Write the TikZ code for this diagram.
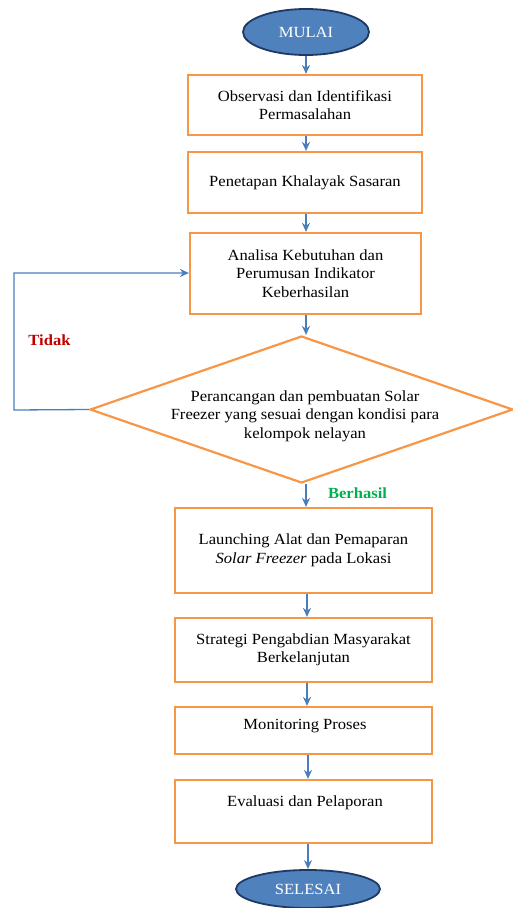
\documentclass[tikz,border=0pt]{standalone}
\usepackage{fontspec}
\setmainfont{Liberation Serif}[FakeStretch=1.07]
\usetikzlibrary{shapes.geometric,arrows.meta}
\definecolor{boxorange}{HTML}{F79646}
\definecolor{arrowblue}{HTML}{4A7EBB}
\definecolor{ellfill}{HTML}{4F81BD}
\definecolor{elldraw}{HTML}{1F3864}
\definecolor{nored}{HTML}{C00000}
\definecolor{yesgreen}{HTML}{00B050}
\tikzset{
  procbox/.style={draw=boxorange, line width=2.2pt, fill=white, rectangle, align=center, inner sep=2pt,
    font=\fontsize{15.5}{18.5}\selectfont},
  terminal/.style={draw=elldraw, line width=1.8pt, fill=ellfill, ellipse, inner sep=0pt, text=white,
    font=\fontsize{15.5}{18.5}\selectfont},
  txt/.style={align=center, inner sep=0pt, font=\fontsize{15.5}{18.5}\selectfont},
  flow/.style={draw=arrowblue, line width=1.3pt, -{Stealth[length=9pt,width=8pt]}},
}
\begin{document}
\begin{tikzpicture}[x=1pt,y=-1pt]
\useasboundingbox (0,0) rectangle (513,908);
\node[terminal, minimum width=126pt, minimum height=46pt] (start) at (306,32) {MULAI};
\node[procbox, minimum width=234pt, minimum height=60pt] (b1) at (305,105) {Observasi dan Identifikasi\\Permasalahan};
\node[procbox, minimum width=234pt, minimum height=61pt] (b2) at (305,182.5) {Penetapan Khalayak Sasaran};
\node[procbox, minimum width=231pt, minimum height=81pt] (b3) at (305.5,273.5) {Analisa Kebutuhan dan\\Perumusan Indikator\\Keberhasilan};
\node[draw=boxorange, line width=2.2pt, diamond, inner sep=0pt, minimum width=423pt, minimum height=147pt] (dia) at (301.5,409.5) {};
\node[txt] (diat) at (305,416) {Perancangan dan pembuatan Solar\\Freezer yang sesuai dengan kondisi para\\kelompok nelayan};
\node[procbox, minimum width=257pt, minimum height=85pt] (b4) at (303.5,550.5) {Launching Alat dan Pemaparan\\\textit{Solar Freezer} pada Lokasi};
\node[procbox, minimum width=257pt, minimum height=64pt] (b5) at (303.5,650) {Strategi Pengabdian Masyarakat\\Berkelanjutan};
\node[procbox, minimum width=257pt, minimum height=47pt] (b6) at (303.5,730.5) {};
\node[txt] (b6t) at (305,726) {Monitoring Proses};
\node[procbox, minimum width=257pt, minimum height=63pt] (b7) at (303.5,811.5) {};
\node[txt] (b7t) at (305,803) {Evaluasi dan Pelaporan};
\node[terminal, minimum width=144pt, minimum height=38pt] (end) at (308,889) {SELESAI};
\node[txt, text=nored, font=\fontsize{15.5}{18.5}\selectfont\bfseries] (no) at (49.5,340) {Tidak};
\node[txt, text=yesgreen, font=\fontsize{15.5}{18.5}\selectfont\bfseries] (yes) at (357.5,493) {Berhasil};
\coordinate (lp1) at (14,410);
\coordinate (lp2) at (14,273);
\draw[flow] (start.south -| 306,0) -- (306,0 |- b1.north);
\draw[flow] (b1.south -| 306,0) -- (306,0 |- b2.north);
\draw[flow] (b2.south -| 306,0) -- (306,0 |- b3.north);
\draw[flow] (b3.south -| 306,0) -- (306,0 |- dia.north);
\draw[flow] (dia.west) -- (lp1) -- (lp2) -- (b3.west |- lp2);
\draw[flow] (dia.south -| 306,0) -- (306,0 |- b4.north);
\draw[flow] (b4.south -| 307,0) -- (307,0 |- b5.north);
\draw[flow] (b5.south -| 307,0) -- (307,0 |- b6.north);
\draw[flow] (b6.south -| 308,0) -- (308,0 |- b7.north);
\draw[flow] (b7.south -| 308,0) -- (308,0 |- end.north);
\end{tikzpicture}
\end{document}
